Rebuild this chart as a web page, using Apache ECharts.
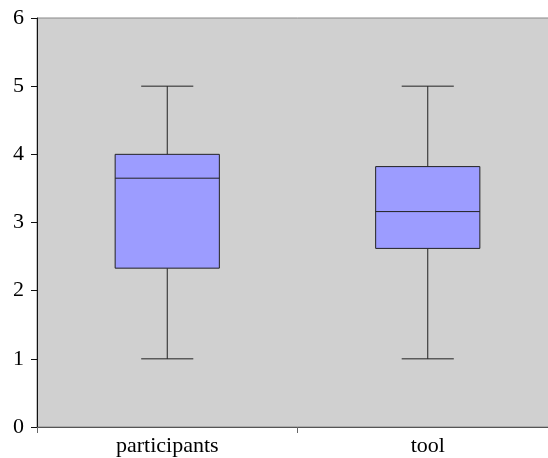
<!DOCTYPE html>
<html>
<head>
<meta charset="utf-8">
<script src="https://cdn.jsdelivr.net/npm/echarts@6/dist/echarts.min.js"></script>
<style>html,body{margin:0;padding:0;background:#fff;overflow:hidden;width:548px;height:458px;}#c{width:559px;height:458px;}</style>
</head>
<body>
<div id="c"></div>
<script>
const categories = ['participants', 'tool'];
const mins = [1, 1];
const q1s = [2.33, 2.62];
const medians = [3.65, 3.16];
const q3s = [4.0, 3.82];
const maxs = [5, 5];
const yTicks = [0, 1, 2, 3, 4, 5, 6];

const data = categories.map((c, i) => [i, mins[i], q1s[i], medians[i], q3s[i], maxs[i]]);
const chart = echarts.init(document.getElementById('c'));
const font = "'Liberation Serif', 'Times New Roman', serif";
chart.setOption({
  animation: false,
  grid: { left: 37, top: 18, bottom: 31, right: 1, outerBoundsMode: 'none', containLabel: false, show: true, backgroundColor: '#D0D0D0', borderColor: '#888', borderWidth: 1 },
  xAxis: {
    type: 'category', data: categories, boundaryGap: true,
    axisLine: { lineStyle: { color: '#555', width: 1 } },
    axisTick: { show: true, length: 6, inside: false, lineStyle: { color: '#666' } },
    axisLabel: { fontFamily: font, fontSize: 22, color: '#000', margin: 8 }
  },
  yAxis: {
    type: 'value', min: yTicks[0], max: yTicks[yTicks.length - 1], interval: 1,
    axisLine: { show: true, lineStyle: { color: '#111', width: 1 } },
    axisTick: { show: true, length: 6, lineStyle: { color: '#111' } },
    splitLine: { show: false },
    axisLabel: { fontFamily: font, fontSize: 22, color: '#000', margin: 13 }
  },
  series: [{
    type: 'custom',
    data: data,
    encode: { x: 0, y: [1, 2, 3, 4, 5] },
    renderItem: function (params, api) {
      const idx = api.value(0);
      const pLo = api.coord([idx, api.value(1)]);
      const pQ1 = api.coord([idx, api.value(2)]);
      const pMed = api.coord([idx, api.value(3)]);
      const pQ3 = api.coord([idx, api.value(4)]);
      const pHi = api.coord([idx, api.value(5)]);
      const band = api.size([1, 0])[0];
      const x = pLo[0];
      const bw = band * 0.4, cw = band * 0.2;
      const ls = { stroke: '#222', lineWidth: 1 };
      return {
        type: 'group',
        children: [
          { type: 'line', shape: { x1: x, y1: pLo[1], x2: x, y2: pQ1[1] }, style: ls },
          { type: 'line', shape: { x1: x, y1: pQ3[1], x2: x, y2: pHi[1] }, style: ls },
          { type: 'line', shape: { x1: x - cw / 2, y1: pLo[1], x2: x + cw / 2, y2: pLo[1] }, style: ls },
          { type: 'line', shape: { x1: x - cw / 2, y1: pHi[1], x2: x + cw / 2, y2: pHi[1] }, style: ls },
          { type: 'rect', shape: { x: x - bw / 2, y: pQ3[1], width: bw, height: pQ1[1] - pQ3[1] }, style: { fill: '#9C9CFF', stroke: '#222', lineWidth: 1 } },
          { type: 'line', shape: { x1: x - bw / 2, y1: pMed[1], x2: x + bw / 2, y2: pMed[1] }, style: ls }
        ]
      };
    }
  }]
});
</script>
</body>
</html>
